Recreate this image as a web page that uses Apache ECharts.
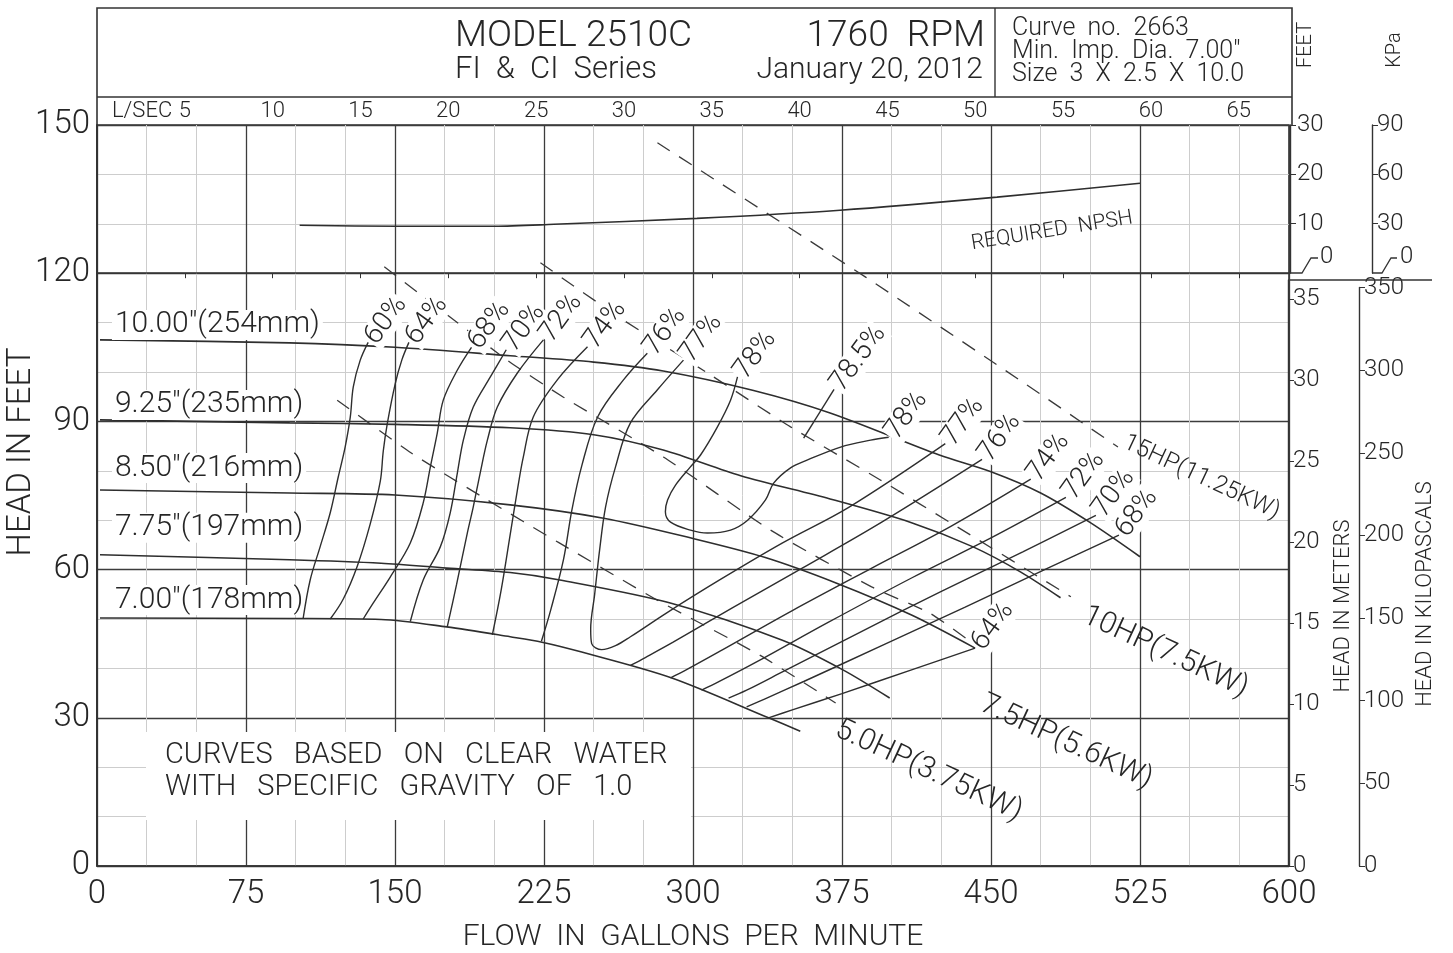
<!DOCTYPE html>
<html><head><meta charset="utf-8">
<script src="https://cdn.jsdelivr.net/npm/echarts@6/dist/echarts.min.js"></script>
<style>html,body{margin:0;padding:0;background:#fff}#c{width:1453px;height:953px}</style>
</head><body><div id="c"></div>
<script>
// ---------------- DATA (GPM, feet) ----------------
const flowTicks = [0, 75, 150, 225, 300, 375, 450, 525, 600];
const headTicks = [0, 30, 60, 90, 120, 150];
// impeller head curves
const dia1000 = [[1.5,106.5],[97,105.9],[150,105],[208,103.3],[250,102],[285,100.2],[330,96.3],[369,91.7],[424,83.2],[450,79.8],[475,75.5],[500,69.5],[525,62.6]];
const dia925  = [[1.5,90.3],[97,89.7],[150,89.4],[208,88.7],[250,87.3],[285,84.2],[324,79],[369,74.3],[410,69.5],[441,64.6],[465,59.5],[485,54.3]];
const dia850  = [[1.5,76.1],[97,75.5],[150,75.1],[208,73.1],[255,70.4],[300,66.3],[336,62.5],[372,57.3],[410,50.8],[442,44.1]];
const dia775  = [[1.5,63],[97,62],[143,61.3],[176,60.3],[208,59.4],[233,57.9],[289,53.2],[345,45.7],[375,39.8],[399,34]];
const dia700  = [[1.5,50.2],[97,50.1],[143,49.9],[176,48.4],[208,46.4],[224,45.3],[244,43.3],[289,38.1],[338,30],[354,27.3]];
const diaNames = ['10.00"(254mm)', '9.25"(235mm)', '8.50"(216mm)', '7.75"(197mm)', '7.00"(178mm)'];
// iso-efficiency curves
const eff60  = [[103.8,50.2],[107.3,57.9],[112.3,64.6],[117.4,71.5],[121.4,78.7],[124.9,84.8],[127.5,90.9],[129,97],[132.5,102.4],[136.5,106]];
const eff64  = [[117.4,50],[123.9,54],[131,60.7],[137.5,69.2],[142.6,77.9],[144.1,84],[146.1,89.5],[150.1,97.6],[153.5,102.5],[157,106]];
const eff68  = [[134,50],[139,53.2],[147.6,58.5],[157.7,65.4],[164.2,73.5],[167.8,80.8],[171.3,87.7],[174.3,94.3],[181.4,100.4],[188.5,105]];
const eff70  = [[157.7,49.5],[164.2,57.9],[172.8,64.6],[177.8,71.5],[181.4,79.6],[184.4,86.2],[189.4,92.9],[198,99],[206,104.5]];
const eff72  = [[176.3,48.4],[181,57],[186.4,67.4],[189.4,72.7],[192.9,79.6],[196.5,86.2],[201.5,92.9],[211.6,99.8],[224.7,106.5]];
const eff74  = [[199,46.8],[203.5,56],[208.1,67.4],[211.6,76.1],[214.6,82.8],[219.6,90.9],[231.7,98.4],[246.9,105.1]];
const eff76L = [[223.7,45.5],[228.5,52],[234.8,62],[239,72],[244,81],[252,90.9],[265,98.4],[277,103.8]];
const eff77  = [[295.2,102.4],[282.1,96.4],[268.5,89.7],[261,80.8],[256,72.7],[253,64],[250.5,55],[248.5,48],[249,45],[254,43.8],[261,44.6],[268.5,46.4],[286.6,51.2],[313.4,57.9],[345.1,65.4],[378.8,72.7],[427,85.5]];
const eff78  = [[322.4,99],[318.9,94.3],[312.3,88.9],[303.8,83.2],[298.7,80.8],[291.2,77.1],[287.2,74.1],[286.1,71.7],[288.7,69.6],[298.7,68],[307.3,67.4],[318.9,68],[327.5,70],[336.5,74.1],[340.6,77.5],[349.1,80.6],[357.7,82.2],[374.3,84.8],[389.4,86.2],[398.5,86.8]];
const eff785 = [[355.7,86.6],[371,96.5]];
const eff76R = [[268.5,40.6],[276,42.2],[290,45.3],[320,52.3],[355,60.3],[395,69.6],[445.5,82.3]];
const eff74R = [[288.7,38.1],[297,39.8],[315,43.8],[350,51.7],[390,60.3],[430,68.8],[470,78.3]];
const eff72R = [[304.3,35.6],[313,37.3],[332,41.3],[368,49.3],[410,58.3],[450,66.4],[487.7,74.6]];
const eff70R = [[317.9,34],[327,35.6],[346,39.5],[384,47.3],[425,55.6],[466,63.6],[502.8,71]];
const eff68R = [[327,32.2],[336,33.8],[356,37.4],[395,44.6],[437,52.4],[477,60],[514.4,67]];
const eff64R = [[338,30],[350,31.6],[375,34.9],[410,39.7],[442,44.1]];
// constant power lines
const hp5   = [[120.9,94.3],[158.2,83.6],[196.5,74.1],[232.7,65.4],[282.1,53.8],[333.5,42.7],[371.8,33]];
const hp75  = [[144.6,121.3],[206.5,102.4],[234.8,94.9],[285.1,82.8],[339,68],[389.9,56.5],[419.1,51.2],[440.8,45.1]];
const hp10  = [[223.2,122.1],[265,110.5],[307.3,99.8],[349.1,88.9],[394.5,78.1],[433.2,68.6],[490.2,54.5]];
const hp15  = [[282.1,146.4],[386.9,119.2],[466.5,97.8],[513.9,84.8]];
const hpNames = ['5.0HP(3.75KW)', '7.5HP(5.6KW)', '10HP(7.5KW)', '15HP(11.25KW)'];
// required NPSH (feet, own scale)
const npshReq = [[102,9.7],[151,9.5],[200,9.5],[230,9.9],[302,11.1],[374,12.75],[453,15.4],[525,18.2]];
// secondary scales
const lsecMax = 67.86;      // L/SEC scale drawn on the top edge
const meterMax = 36.16;     // HEAD IN METERS axis extent
const kpaMax = 350;         // HEAD IN KILOPASCALS axis extent

// ---------------- STYLE ----------------
const FONT = 'Roboto, "Open Sans", "DejaVu Sans", sans-serif';
const INK = '#262626';
const LINE = '#2e2e2e';
const G = {left: 97, top: 125, width: 1192, height: 741};
const diaLabelDy = [-15, -15, -22, -27, -18];

function txt(size, extra) {
  return Object.assign({fontFamily: FONT, fontSize: size, color: INK, fontWeight: 300}, extra || {});
}
function effLabel(t) {
  return txt(28, {show: true, formatter: t, position: 'right', distance: 2, rotate: 54,
    align: 'left', verticalAlign: 'middle', backgroundColor: '#fff', padding: [0, 1]});
}
function hpLabel(t, size, off) {
  return txt(size, {show: true, formatter: t, position: 'right', distance: 4, rotate: -25,
    align: 'left', verticalAlign: 'middle', offset: off || [0, 0]});
}
function withLabels(arr, labels) {
  return arr.map((p, i) => labels[i] ? {value: p, label: labels[i]} : p);
}
function line(name, data, extra) {
  return Object.assign({
    type: 'line', name: name, data: data, xAxisIndex: 0, yAxisIndex: 0,
    smooth: 0.35, showSymbol: true, symbol: 'circle', symbolSize: 0,
    lineStyle: {color: LINE, width: 1.4}, itemStyle: {color: LINE},
    label: {show: false}, silent: true, animation: false, z: 3
  }, extra || {});
}
const last = a => a.length - 1;

const series = [];
[dia1000, dia925, dia850, dia775, dia700].forEach((d, i) => {
  series.push(line('dia' + i, withLabels(d, {0: txt(30, {show: true, formatter: diaNames[i],
    position: 'right', distance: 0, offset: [12, diaLabelDy[i]], align: 'left', verticalAlign: 'middle',
    backgroundColor: '#fff', padding: [0, 3]})}), {smooth: 0.3, lineStyle: {color: LINE, width: 1.6}}));
});
const effSet = [
  [eff60, {[last(eff60)]: effLabel('60%')}],
  [eff64, {[last(eff64)]: effLabel('64%')}],
  [eff68, {[last(eff68)]: effLabel('68%')}],
  [eff70, {[last(eff70)]: effLabel('70%')}],
  [eff72, {[last(eff72)]: effLabel('72%')}],
  [eff74, {[last(eff74)]: effLabel('74%')}],
  [eff76L, {[last(eff76L)]: effLabel('76%')}],
  [eff77, {0: effLabel('77%'), [last(eff77)]: effLabel('77%')}],
  [eff78, {0: effLabel('78%'), [last(eff78)]: effLabel('78%')}],
  [eff785, {[last(eff785)]: effLabel('78.5%')}],
  [eff76R, {[last(eff76R)]: effLabel('76%')}],
  [eff74R, {[last(eff74R)]: effLabel('74%')}],
  [eff72R, {[last(eff72R)]: effLabel('72%')}],
  [eff70R, {[last(eff70R)]: effLabel('70%')}],
  [eff68R, {[last(eff68R)]: effLabel('68%')}],
  [eff64R, {[last(eff64R)]: effLabel('64%')}]
];
effSet.forEach((e, i) => series.push(line('eff' + i, withLabels(e[0], e[1]), {z: 4})));
const hpSet = [[hp5, 30, [8, 24]], [hp75, 30, [30, 52]], [hp10, 30, [16, 12]], [hp15, 24, [0, -6]]];
hpSet.forEach((h, i) => series.push(line('hp' + i, withLabels(h[0], {[last(h[0])]: hpLabel(hpNames[i], h[1], h[2])}),
  {smooth: 0.2, lineStyle: {color: '#3a3a3a', width: 1.3, type: [15, 11]}, z: 2})));
series.push(line('npsh', npshReq, {yAxisIndex: 2, smooth: 0.3, lineStyle: {color: LINE, width: 1.6}}));

// axis helpers for the thin side scales
function sideY(grid, max, interval, extra) {
  return Object.assign({
    type: 'value', gridIndex: grid, position: 'right', min: 0, max: max, interval: interval,
    axisLine: {show: true, lineStyle: {color: '#333', width: 1.4}},
    axisTick: {show: true, length: 6, lineStyle: {color: '#333'}},
    axisLabel: txt(24, {margin: 4, showMaxLabel: true}),
    splitLine: {show: false}
  }, extra || {});
}
function hiddenX(grid) { return {type: 'value', gridIndex: grid, show: false, min: 0, max: 1}; }
function sideGrid(o) { return Object.assign({outerBoundsMode: 'none', containLabel: false}, o); }

const option = {
  animation: false,
  backgroundColor: '#fff',
  grid: [
    sideGrid(Object.assign({show: true, borderColor: '#333', borderWidth: 1.6, backgroundColor: 'transparent'}, G)),
    sideGrid({left: 1290, top: 125, width: 1, height: 148}),
    sideGrid({left: 1372, top: 125, width: 1, height: 148}),
    sideGrid({left: 1288, top: 280, width: 1, height: 586}),
    sideGrid({left: 1359, top: 866 - 578.5, width: 1, height: 578.5})
  ],
  xAxis: [
    {type: 'value', gridIndex: 0, min: 0, max: 600, interval: 75,
     name: 'FLOW  IN  GALLONS  PER  MINUTE', nameLocation: 'middle', nameGap: 56, nameTextStyle: txt(30),
     axisLine: {show: true, lineStyle: {color: '#333', width: 1.6}}, axisTick: {show: false},
     axisLabel: txt(33, {margin: 12}),
     splitLine: {show: true, lineStyle: {color: '#3c3c3c', width: 1.3}},
     minorTick: {show: false, splitNumber: 3},
     minorSplitLine: {show: true, lineStyle: {color: '#cdcdcd', width: 1}}},
    {type: 'value', gridIndex: 0, position: 'top', min: 0, max: lsecMax, interval: 5,
     axisLine: {show: true, lineStyle: {color: '#333', width: 1.6}},
     axisTick: {show: true, inside: true, length: 5, lineStyle: {color: '#333'}},
     axisLabel: txt(22, {margin: 3, showMinLabel: false, showMaxLabel: false}),
     splitLine: {show: false}},
    hiddenX(1), hiddenX(2), hiddenX(3), hiddenX(4)
  ],
  yAxis: [
    {type: 'value', gridIndex: 0, min: 0, max: 150, interval: 30,
     axisLine: {show: true, lineStyle: {color: '#333', width: 1.6}}, axisTick: {show: false},
     axisLabel: txt(33, {margin: 7}),
     splitLine: {show: true, lineStyle: {color: '#3c3c3c', width: 1.3}},
     minorTick: {show: false, splitNumber: 3},
     minorSplitLine: {show: true, lineStyle: {color: '#cdcdcd', width: 1}}},
    sideY(3, meterMax, 5, {axisLabel: txt(24, {margin: 4, showMaxLabel: false})}),
    {type: 'value', gridIndex: 0, min: -120, max: 30, show: false},
    sideY(1, 30, 10, {axisLabel: txt(24, {margin: 6, showMinLabel: false})}),
    sideY(2, 90, 30, {axisLabel: txt(24, {margin: 4, showMinLabel: false})}),
    sideY(4, kpaMax, 50)
  ],
  series: series,
  graphic: [
    // header frame
    {type: 'polyline', z: 50, shape: {points: [[97, 866], [97, 8], [1292, 8], [1292, 125]]}, style: {stroke: '#333', lineWidth: 1.6, fill: null}},
    {type: 'line', z: 50, shape: {x1: 97, y1: 97, x2: 1292, y2: 97}, style: {stroke: '#333', lineWidth: 1.6}},
    {type: 'line', z: 50, shape: {x1: 995, y1: 8, x2: 995, y2: 97}, style: {stroke: '#333', lineWidth: 1.4}},
    {type: 'text', z: 50, left: 455, top: 18, style: {text: 'MODEL 2510C', font: '300 37px ' + FONT, fill: INK}},
    {type: 'text', z: 50, left: 455, top: 55, style: {text: 'FI  &  CI  Series', font: '300 31px ' + FONT, fill: INK}},
    {type: 'text', z: 50, right: 1453 - 985, top: 18, style: {text: '1760  RPM', font: '300 37px ' + FONT, fill: INK}},
    {type: 'text', z: 50, right: 1453 - 983, top: 55, style: {text: 'January 20, 2012', font: '300 30px ' + FONT, fill: INK}},
    {type: 'text', z: 50, left: 1012, top: 16, style: {text: 'Curve  no.  2663', font: '300 25px ' + FONT, fill: INK}},
    {type: 'text', z: 50, left: 1012, top: 39, style: {text: 'Min.  Imp.  Dia.  7.00"', font: '300 25px ' + FONT, fill: INK}},
    {type: 'text', z: 50, left: 1012, top: 62, style: {text: 'Size  3  X  2.5  X  10.0', font: '300 25px ' + FONT, fill: INK}},
    {type: 'text', z: 50, left: 112, top: 100, style: {text: 'L/SEC', font: '300 22px ' + FONT, fill: INK}},
    // right side scales decoration
    {type: 'text', z: 50, x: 1306, y: 45, rotation: Math.PI / 2, style: {text: 'FEET', font: '300 20px ' + FONT, fill: INK, align: 'center', verticalAlign: 'middle'}},
    {type: 'text', z: 50, x: 1395, y: 50, rotation: Math.PI / 2, style: {text: 'KPa', font: '300 20px ' + FONT, fill: INK, align: 'center', verticalAlign: 'middle'}},
    {type: 'polyline', z: 50, shape: {points: [[1290, 273], [1302, 273], [1311, 258], [1318, 258]]}, style: {stroke: '#333', lineWidth: 1.3, fill: null}},
    {type: 'polyline', z: 50, shape: {points: [[1372, 273], [1382, 273], [1391, 258], [1397, 258]]}, style: {stroke: '#333', lineWidth: 1.3, fill: null}},
    {type: 'text', z: 50, x: 1320, y: 257, style: {text: '0', font: '300 24px ' + FONT, fill: INK, verticalAlign: 'middle'}},
    {type: 'text', z: 50, x: 1400, y: 257, style: {text: '0', font: '300 24px ' + FONT, fill: INK, verticalAlign: 'middle'}},
    {type: 'line', z: 50, shape: {x1: 1290, y1: 280, x2: 1432, y2: 280}, style: {stroke: '#333', lineWidth: 1.4}},
    {type: 'text', z: 50, x: 1343, y: 606, rotation: Math.PI / 2, style: {text: 'HEAD IN METERS', font: '300 22px ' + FONT, fill: INK, align: 'center', verticalAlign: 'middle'}},
    {type: 'text', z: 50, x: 1425, y: 594, rotation: Math.PI / 2, style: {text: 'HEAD IN KILOPASCALS', font: '300 22px ' + FONT, fill: INK, align: 'center', verticalAlign: 'middle'}},
    {type: 'text', z: 50, x: 22, y: 452, rotation: Math.PI / 2, style: {text: 'HEAD IN FEET', font: '300 33px ' + FONT, fill: INK, align: 'center', verticalAlign: 'middle'}},
    {type: 'text', z: 50, x: 1052, y: 231, rotation: 0.16, style: {text: 'REQUIRED  NPSH', font: '300 21px ' + FONT, fill: INK, align: 'center', verticalAlign: 'middle'}},
    // note box
    {type: 'rect', z: 40, shape: {x: 146, y: 732, width: 545, height: 88}, style: {fill: '#fff'}},
    {type: 'text', z: 50, left: 165, top: 741, style: {text: 'CURVES   BASED   ON   CLEAR   WATER', font: '300 29px ' + FONT, fill: INK}},
    {type: 'text', z: 50, left: 165, top: 773, style: {text: 'WITH   SPECIFIC   GRAVITY   OF   1.0', font: '300 29px ' + FONT, fill: INK}}
  ]
};
const chart = echarts.init(document.getElementById('c'), null, {renderer: 'canvas'});
chart.setOption(option);
</script>
</body></html>
